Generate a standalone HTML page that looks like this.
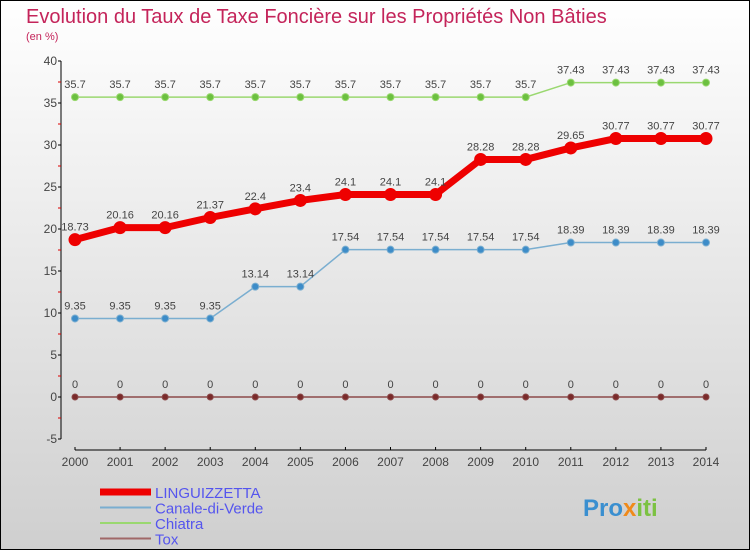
<!DOCTYPE html>
<html><head><meta charset="utf-8"><style>
body{margin:0}
#c{width:750px;height:550px;position:relative;overflow:hidden;font-family:"Liberation Sans",sans-serif}
</style></head><body>
<div id="c">
<svg id="s" width="750" height="550" xmlns="http://www.w3.org/2000/svg">
<defs><linearGradient id="bg" x1="0" y1="0" x2="0" y2="1"><stop offset="0" stop-color="#ffffff"/><stop offset="1" stop-color="#cfcfcf"/></linearGradient></defs>
<rect x="0.5" y="0.5" width="749" height="549" fill="url(#bg)" stroke="#000"/>
<text x="26" y="23" font-size="20" fill="#c4245a">Evolution du Taux de Taxe Foncière sur les Propriétés Non Bâties</text>
<text x="26" y="40" font-size="11" fill="#c4245a">(en %)</text>
<g id="axes"></g><g id="series"></g><g id="legend"></g>
<text x="583" y="516" font-size="24" font-weight="bold" fill="#3a8fd0">Pro<tspan fill="#f08a1a">x</tspan><tspan fill="#7cc242">iti</tspan></text>
</svg>
</div>
<script>
const years=[2000,2001,2002,2003,2004,2005,2006,2007,2008,2009,2010,2011,2012,2013,2014];
const linguizzetta=[18.73,20.16,20.16,21.37,22.4,23.4,24.1,24.1,24.1,28.28,28.28,29.65,30.77,30.77,30.77];
const canale=[9.35,9.35,9.35,9.35,13.14,13.14,17.54,17.54,17.54,17.54,17.54,18.39,18.39,18.39,18.39];
const chiatra=[35.7,35.7,35.7,35.7,35.7,35.7,35.7,35.7,35.7,35.7,35.7,37.43,37.43,37.43,37.43];
const tox=[0,0,0,0,0,0,0,0,0,0,0,0,0,0,0];
const yTicks=[-5,0,5,10,15,20,25,30,35,40];
const NS="http://www.w3.org/2000/svg";
const X=i=>75+i*(706-75)/(years.length-1);
const Y=v=>397-v*(397-61)/40;
function mk(p,t,a){const e=document.createElementNS(NS,t);for(const k in a)e.setAttribute(k,a[k]);p.appendChild(e);return e;}
const ax=document.getElementById('axes');
let l=mk(ax,'line',{x1:61,y1:Y(40),x2:61,y2:Y(-5),stroke:'#000'});


yTicks.forEach(v=>{
 mk(ax,'line',{x1:58,y1:Y(v),x2:61,y2:Y(v),stroke:'#000'});
 if(v<40) mk(ax,'line',{x1:58,y1:Y(v+2.5),x2:61,y2:Y(v+2.5),stroke:'#d00'});
 const t=mk(ax,'text',{x:57,y:Y(v)+4,'font-size':12,fill:'#444','text-anchor':'end'});
 t.textContent=v;
 
 
});
l=mk(ax,'line',{x1:X(0),y1:450,x2:X(years.length-1),y2:450,stroke:'#000'});


years.forEach((y,i)=>{
 mk(ax,'line',{x1:X(i),y1:447,x2:X(i),y2:450,stroke:'#000'});
 const t=mk(ax,'text',{x:X(i),y:466,'font-size':12,fill:'#444','text-anchor':'middle'});
 t.textContent=y;
 
 
});
const sg=document.getElementById('series');
function series(name,vals,col,dot,w,r){
 const g=mk(sg,'g',{});
 
 
 mk(g,'polyline',{points:vals.map((v,i)=>X(i)+','+Y(v)).join(' '),fill:'none',stroke:col,'stroke-width':w});
 vals.forEach((v,i)=>{
  const c=mk(g,'circle',{cx:X(i),cy:Y(v),r:r,fill:dot,stroke:col,'stroke-width':1});
  
  
  const t=mk(g,'text',{x:X(i),y:Y(v)-9,'font-size':11,fill:'#444','text-anchor':'middle'});
  t.textContent=String(v);
  
  
 });
}
series('tox',tox,'#8b4a4a','#7a2a2a',1.5,3);
series('chiatra',chiatra,'#9ad870','#6cc040',1.5,3.5);
series('canale',canale,'#7aaed0','#3d8cc8',1.5,3.5);
series('linguizzetta',linguizzetta,'#ee0000','#ee0000',7,6);
const lg=document.getElementById('legend');
[['LINGUIZZETTA','#ee0000',7],['Canale-di-Verde','#7aaed0',2],['Chiatra','#9ad870',2],['Tox','#a06868',2]].forEach((d,i)=>{
 const y=492+i*15.5;
 const g=mk(lg,'g',{});
 
 
 mk(g,'line',{x1:100,y1:y,x2:151,y2:y,stroke:d[1],'stroke-width':d[2]});
 const t=mk(g,'text',{x:155,y:y+6,'font-size':15,fill:'#5555ee'});
 t.textContent=d[0];
});
</script>
</body></html>
